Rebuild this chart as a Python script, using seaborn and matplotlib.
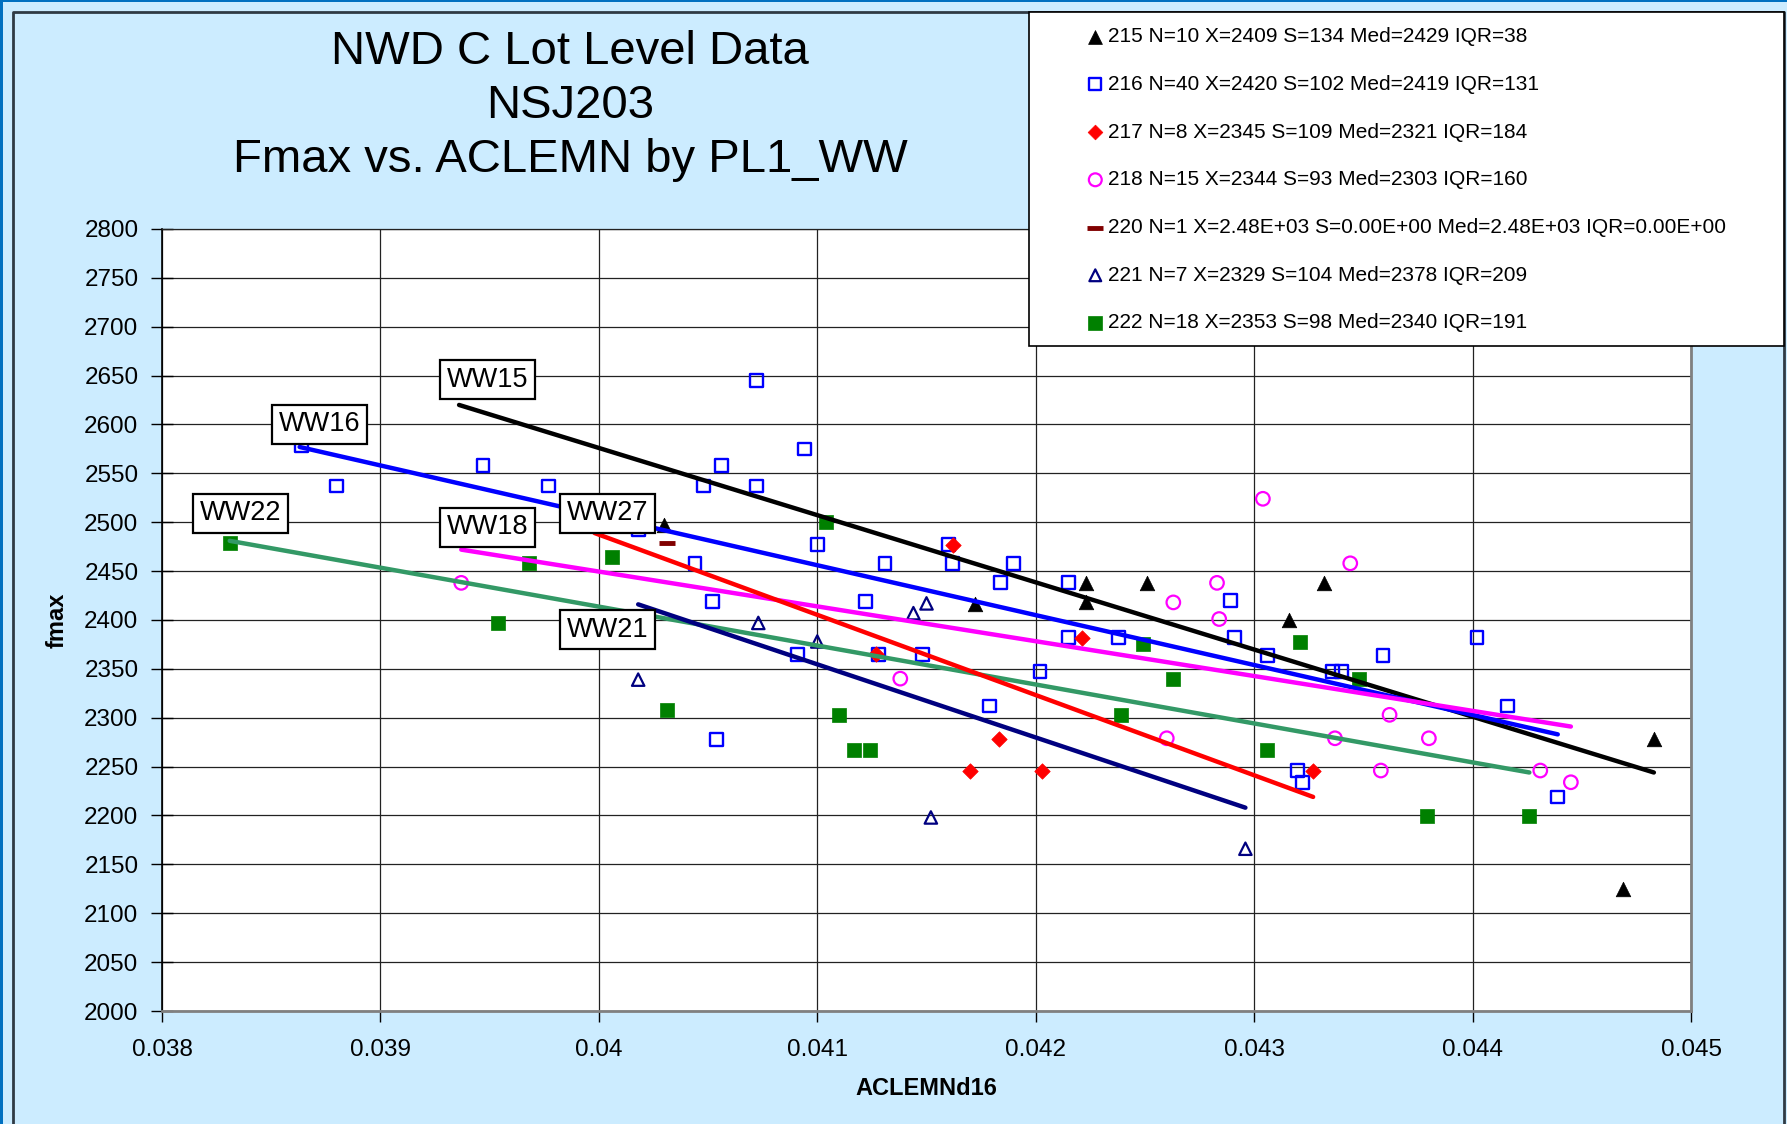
import numpy as np
import pandas as pd
import matplotlib
matplotlib.use("Agg")
import matplotlib.pyplot as plt
from matplotlib.patches import Rectangle
from matplotlib.lines import Line2D
import seaborn as sns

# ---------------- data ----------------
lot215_x = [0.04030, 0.04172, 0.04223, 0.04223, 0.04251, 0.04316, 0.04332, 0.04483, 0.04469]
lot215_y = [2497, 2416, 2438, 2418, 2438, 2400, 2438, 2278, 2125]

lot216_x = [0.03864, 0.03880, 0.03947, 0.03977, 0.04018, 0.04072, 0.04094, 0.04056, 0.04048, 0.04072,
            0.04100, 0.04044, 0.04131, 0.04160, 0.04162, 0.04190, 0.04184, 0.04052, 0.04122, 0.04091,
            0.04128, 0.04148, 0.04202, 0.04179, 0.04054, 0.04215, 0.04289, 0.04215, 0.04238, 0.04291,
            0.04306, 0.04336, 0.04340, 0.04359, 0.04320, 0.04322, 0.04402, 0.04416, 0.04439]
lot216_y = [2578, 2537, 2558, 2537, 2492, 2645, 2575, 2558, 2537, 2537,
            2477, 2458, 2458, 2477, 2458, 2458, 2438, 2419, 2419, 2365,
            2365, 2365, 2347, 2312, 2278, 2438, 2420, 2382, 2382, 2382,
            2364, 2347, 2347, 2364, 2246, 2234, 2382, 2312, 2219]

lot217_x = [0.04162, 0.04221, 0.04127, 0.04183, 0.04170, 0.04203, 0.04327]
lot217_y = [2477, 2382, 2365, 2278, 2246, 2246, 2246]

lot218_x = [0.03937, 0.04138, 0.04304, 0.04344, 0.04283, 0.04263, 0.04284, 0.04260, 0.04337, 0.04362,
            0.04358, 0.04380, 0.04431, 0.04445]
lot218_y = [2438, 2340, 2524, 2458, 2438, 2418, 2401, 2279, 2279, 2303,
            2246, 2279, 2246, 2234]

lot220_x = [0.04031]
lot220_y = [2479]

lot221_x = [0.04018, 0.04073, 0.04100, 0.04144, 0.04150, 0.04152, 0.04296]
lot221_y = [2339, 2397, 2378, 2407, 2417, 2198, 2166]

lot222_x = [0.03831, 0.03968, 0.03954, 0.04006, 0.04104, 0.04031, 0.04110, 0.04117, 0.04124, 0.04249,
            0.04263, 0.04239, 0.04321, 0.04348, 0.04306, 0.04379, 0.04426]
lot222_y = [2479, 2458, 2397, 2464, 2500, 2308, 2303, 2267, 2267, 2375,
            2340, 2303, 2378, 2340, 2267, 2199, 2199]

legend_labels = [
    "215 N=10 X=2409 S=134 Med=2429 IQR=38",
    "216 N=40 X=2420 S=102 Med=2419 IQR=131",
    "217 N=8 X=2345 S=109 Med=2321 IQR=184",
    "218 N=15 X=2344 S=93 Med=2303 IQR=160",
    "220 N=1 X=2.48E+03 S=0.00E+00 Med=2.48E+03 IQR=0.00E+00",
    "221 N=7 X=2329 S=104 Med=2378 IQR=209",
    "222 N=18 X=2353 S=98 Med=2340 IQR=191",
]

# fitted lines per work week (start / end)
ww_names = ["WW15", "WW16", "WW22", "WW18", "WW27", "WW21"]
ww_x_start = [0.03936, 0.03863, 0.03831, 0.03937, 0.03998, 0.04018]
ww_y_start = [2620, 2577, 2481, 2472, 2489, 2416]
ww_x_end = [0.04483, 0.04439, 0.04426, 0.04445, 0.04327, 0.04296]
ww_y_end = [2244, 2283, 2244, 2291, 2219, 2208]

# label box positions (data coords)
ww_label_x = [0.03949, 0.03872, 0.03836, 0.03949, 0.04004, 0.04004]
ww_label_y = [2646, 2600, 2509, 2495, 2509, 2390]

x_ticks = [0.038, 0.039, 0.040, 0.041, 0.042, 0.043, 0.044, 0.045]
x_tick_labels = ["0.038", "0.039", "0.04", "0.041", "0.042", "0.043", "0.044", "0.045"]
y_ticks = list(range(2000, 2801, 50))

# ---------------- style ----------------
sns.set_style("white")
plt.rcParams["font.family"] = ["Liberation Sans", "DejaVu Sans"]
plt.rcParams["text.color"] = "black"
plt.rcParams["axes.labelcolor"] = "black"

W, H = 1787, 1124
fig = plt.figure(figsize=(W / 100, H / 100), dpi=100)
fig.patch.set_facecolor("#CCECFF")

ax = fig.add_axes([162 / W, 1 - 1011 / H, (1691 - 162) / W, (1011 - 229) / H])
ax.set_facecolor("white")

# scatter series
series = [
    (lot215_x, lot215_y, legend_labels[0], dict(marker="^", s=110, facecolor="black", edgecolor="black", linewidth=0.5)),
    (lot216_x, lot216_y, legend_labels[1], dict(marker="s", s=85, facecolor="none", edgecolor="#0000FF", linewidth=1.7)),
    (lot217_x, lot217_y, legend_labels[2], dict(marker="D", s=62, facecolor="#FF0000", edgecolor="#FF0000", linewidth=0.5)),
    (lot218_x, lot218_y, legend_labels[3], dict(marker="o", s=95, facecolor="none", edgecolor="#FF00FF", linewidth=1.6)),
    (lot220_x, lot220_y, legend_labels[4], dict(marker="_", s=130, facecolor="#800000", edgecolor="#800000", linewidth=3.5)),
    (lot221_x, lot221_y, legend_labels[5], dict(marker="^", s=80, facecolor="none", edgecolor="#000080", linewidth=1.6)),
    (lot222_x, lot222_y, legend_labels[6], dict(marker="s", s=115, facecolor="#008000", edgecolor="#008000", linewidth=0.5)),
]
for xs, ys, lab, kw in series:
    df = pd.DataFrame({"aclemn": xs, "fmax": ys})
    sns.scatterplot(data=df, x="aclemn", y="fmax", ax=ax, label=lab, legend=False, zorder=3, **kw)

# fitted lines
line_rows = []
for name, x0, y0, x1, y1 in zip(ww_names, ww_x_start, ww_y_start, ww_x_end, ww_y_end):
    line_rows.append({"ww": name, "x": x0, "y": y0})
    line_rows.append({"ww": name, "x": x1, "y": y1})
lines_df = pd.DataFrame(line_rows)
ww_palette = {"WW15": "black", "WW16": "#0000FF", "WW22": "#339966",
              "WW18": "#FF00FF", "WW27": "#FF0000", "WW21": "#000080"}
sns.lineplot(data=lines_df, x="x", y="y", hue="ww", palette=ww_palette, estimator=None,
             sort=False, linewidth=3.2, legend=False, ax=ax, zorder=4)

# WW labels
for name, lx, ly in zip(ww_names, ww_label_x, ww_label_y):
    ax.text(lx, ly, name, fontsize=19.5, ha="center", va="center", zorder=6,
            bbox=dict(boxstyle="square,pad=0.24", facecolor="white", edgecolor="black", linewidth=1.6))

# axes formatting
ax.set_xlim(0.038, 0.045)
ax.set_ylim(2000, 2800)
ax.set_xticks(x_ticks)
ax.set_xticklabels(x_tick_labels)
ax.set_yticks(y_ticks)
ax.set_yticklabels([str(v) for v in y_ticks])
ax.grid(True, color="#222222", linewidth=0.9)
ax.set_axisbelow(True)
ax.tick_params(axis="y", direction="inout", length=16, width=1, labelsize=17.5, pad=9, left=True, colors="black")
ax.tick_params(axis="x", direction="out", length=8, width=1, labelsize=17.5, pad=12, bottom=True, colors="black")
ax.set_xlabel("ACLEMNd16", fontsize=17, fontweight="bold", labelpad=12)
ax.set_ylabel("fmax", fontsize=17, fontweight="bold", labelpad=11)
for side, col, lw in [("left", "black", 1.2), ("bottom", "#808080", 2.0),
                      ("right", "#808080", 2.0), ("top", "#222222", 0.9)]:
    ax.spines[side].set_color(col)
    ax.spines[side].set_linewidth(lw)
    ax.spines[side].set_visible(True)

# title
fig.text(570 / W, 1 - 106 / H, "NWD C Lot Level Data\nNSJ203\nFmax vs. ACLEMN by PL1_WW",
         ha="center", va="center", fontsize=34, linespacing=1.28, color="black")

# legend box
fig.patches.append(Rectangle((1029 / W, 1 - 346 / H), (1784 - 1029) / W, (346 - 12) / H,
                             transform=fig.transFigure, facecolor="white", edgecolor="black",
                             linewidth=1.2, zorder=5))
handles, labels = ax.get_legend_handles_labels()
order = [labels.index(l) for l in legend_labels]
leg = fig.legend([handles[i] for i in order], [labels[i] for i in order],
                 loc="upper left", bbox_to_anchor=(1088 / W, 1 - 27 / H), frameon=False,
                 fontsize=15, handlelength=0.7, handletextpad=0.25, labelspacing=1.38,
                 borderpad=0, borderaxespad=0, markerscale=0.95)
leg.set_zorder(6)

# chart frame lines
fig.patches.append(Rectangle((0, 0), 3 / W, 1, transform=fig.transFigure, facecolor="#0070C0",
                             edgecolor="none", zorder=1))
fig.patches.append(Rectangle((0, 1 - 2 / H), 1, 2 / H, transform=fig.transFigure, facecolor="#0070C0",
                             edgecolor="none", zorder=1))
fig.lines.append(Line2D([13 / W, 13 / W, 1784 / W, 1784 / W], [0, 1 - 12 / H, 1 - 12 / H, 0],
                        transform=fig.transFigure, color="#2F3A44", linewidth=2, zorder=1))

fig.savefig("out.png", dpi=100, facecolor=fig.get_facecolor())
